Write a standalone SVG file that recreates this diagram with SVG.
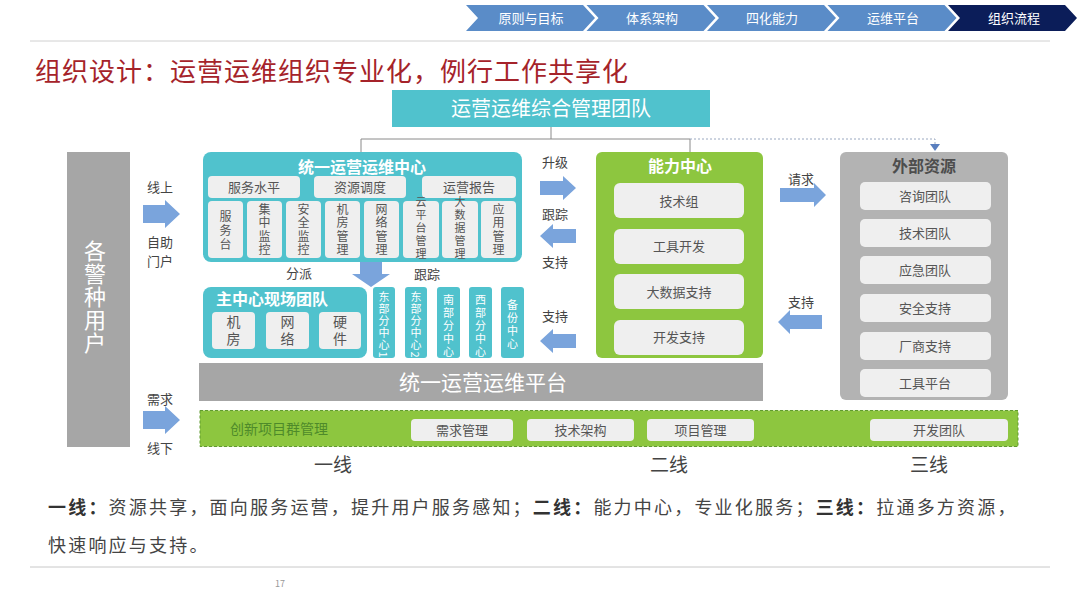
<svg xmlns="http://www.w3.org/2000/svg" width="1080" height="608" viewBox="0 0 1080 608">
<style>
text{font-family:"Noto Sans CJK SC","Microsoft YaHei","Noto Sans",sans-serif;}
.nav{fill:#5a8cc8;}
.navt{fill:#fff;font-size:13px;text-anchor:middle;}
.teal{fill:#50c2cd;}
.green{fill:#8dc63f;}
.gray{fill:#a6a6a6;}
.lbox{fill:#efefef;}
.wt{fill:#fff;text-anchor:middle;}
.bt{fill:#fff;font-weight:bold;font-size:16px;text-anchor:middle;}
.dt{fill:#555;text-anchor:middle;font-size:13px;}
.v{writing-mode:vertical-rl;text-anchor:start;}
.vt{fill:#555;font-size:12px;}
.vt5{fill:#555;font-size:11px;letter-spacing:2px;}
.bv{fill:#fff;font-size:11px;}
.lab{fill:#444;font-size:13px;text-anchor:middle;}
.arr{fill:#7aa4dc;}
.line{fill:#444;font-size:19px;text-anchor:middle;}
</style>
<rect width="1080" height="608" fill="#fff"/>

<g id="nav">
<polygon class="nav" points="466,5 583,5 595,18 583,31 466,31 478,18"/>
<polygon class="nav" points="586.5,5 703.5,5 715.5,18 703.5,31 586.5,31 598.5,18"/>
<polygon class="nav" points="707,5 824,5 836,18 824,31 707,31 719,18"/>
<polygon class="nav" points="827.5,5 944.5,5 956.5,18 944.5,31 827.5,31 839.5,18"/>
<polygon fill="#0b1d59" points="948,5 1065,5 1077,18 1065,31 948,31 960,18"/>
<text class="navt" x="531" y="22.5">原则与目标</text>
<text class="navt" x="652" y="22.5">体系架构</text>
<text class="navt" x="772" y="22.5">四化能力</text>
<text class="navt" x="893" y="22.5">运维平台</text>
<text class="navt" x="1014" y="22.5">组织流程</text>
</g>
<line x1="30" y1="41" x2="1050" y2="41" stroke="#d0d0d0" stroke-width="1"/>
<text x="35" y="81" fill="#a5232a" font-size="26" letter-spacing="1">组织设计：运营运维组织专业化，例行工作共享化</text>

<g id="connectors" fill="none" stroke="#8a8a8a" stroke-width="1">
<path d="M551,127 V139 M361,152 V139 H690 V152"/>
<path d="M690,139 H935 V146" stroke-dasharray="2,2" stroke="#9aa8c0"/>
<path d="M930,144 L940,144 L935,151 z" fill="#5a7fbf" stroke="none"/>
</g>

<g id="mgmt">
<rect x="392" y="90" width="318" height="37" class="teal"/>
<text class="wt" x="551" y="116" font-size="20">运营运维综合管理团队</text>
</g>

<g id="users">
<rect x="67" y="152" width="63" height="295" class="gray"/>
<text class="v" fill="#fff" font-size="22" letter-spacing="1" x="95" y="240">各警种用户</text>
</g>

<g id="arrows-left">
<text class="lab" x="160" y="192">线上</text>
<path class="arr" d="M143,205 H165 V200 L180,214 L165,228 V223 H143 z"/>
<text class="lab" x="160" y="247">自助</text>
<text class="lab" x="160" y="266">门户</text>
<text class="lab" x="160" y="404">需求</text>
<path class="arr" d="M143,411 H165 V406 L180,420 L165,434 V429 H143 z"/>
<text class="lab" x="160" y="453">线下</text>
</g>

<g id="unified-center">
<rect x="203" y="152" width="319" height="110" rx="8" class="teal"/>
<text class="bt" x="362" y="173">统一运营运维中心</text>
<rect x="208" y="176" width="92" height="22" rx="4" class="lbox"/>
<rect x="314" y="176" width="92" height="22" rx="4" class="lbox"/>
<rect x="422" y="176" width="94" height="22" rx="4" class="lbox"/>
<text class="dt" x="254" y="192">服务水平</text>
<text class="dt" x="360" y="192">资源调度</text>
<text class="dt" x="469" y="192">运营报告</text>
<rect x="208" y="201" width="35" height="57" rx="4" class="lbox"/>
<rect x="247" y="201" width="35" height="57" rx="4" class="lbox"/>
<rect x="286" y="201" width="35" height="57" rx="4" class="lbox"/>
<rect x="325" y="201" width="35" height="57" rx="4" class="lbox"/>
<rect x="364" y="201" width="35" height="57" rx="4" class="lbox"/>
<rect x="403" y="201" width="36" height="57" rx="4" class="lbox"/>
<rect x="442" y="201" width="36" height="57" rx="4" class="lbox"/>
<rect x="481" y="201" width="35" height="57" rx="4" class="lbox"/>
<text class="v vt" letter-spacing="2" x="225.5" y="210">服务台</text>
<text class="v vt" letter-spacing="1.5" x="264.5" y="203">集中监控</text>
<text class="v vt" letter-spacing="1.5" x="303.5" y="203">安全监控</text>
<text class="v vt" letter-spacing="1.5" x="342.5" y="203">机房管理</text>
<text class="v vt" letter-spacing="1.5" x="381.5" y="203">网络管理</text>
<text class="v vt5" x="421" y="196.5">云平台管理</text>
<text class="v vt5" x="460" y="196.5">大数据管理</text>
<text class="v vt" letter-spacing="1.5" x="498.5" y="203">应用管理</text>
</g>

<g id="dispatch">
<path class="arr" d="M360,262 H382 V274 H390 L371,287 L352,274 H360 z"/>
<text class="lab" x="299" y="278">分派</text>
<text class="lab" x="427" y="279">跟踪</text>
</g>

<g id="main-team">
<rect x="203" y="287" width="164" height="71" rx="8" class="teal"/>
<text class="bt" x="272" y="305">主中心现场团队</text>
<rect x="212" y="312" width="43" height="37" rx="4" class="lbox"/>
<rect x="266" y="312" width="43" height="37" rx="4" class="lbox"/>
<rect x="319" y="312" width="42" height="37" rx="4" class="lbox"/>
<text class="v" fill="#555" font-size="14" letter-spacing="3" x="233.5" y="315">机房</text>
<text class="v" fill="#555" font-size="14" letter-spacing="3" x="287.5" y="315">网络</text>
<text class="v" fill="#555" font-size="14" letter-spacing="3" x="340" y="315">硬件</text>
</g>

<g id="branches">
<rect x="373" y="287" width="22" height="71" rx="3" class="teal"/>
<rect x="405" y="287" width="22" height="71" rx="3" class="teal"/>
<rect x="437" y="287" width="23" height="71" rx="3" class="teal"/>
<rect x="469" y="287" width="23" height="71" rx="3" class="teal"/>
<rect x="501" y="287" width="23" height="71" rx="3" class="teal"/>
<text class="v bv" letter-spacing="1" x="384" y="291.5">东部分中心1</text>
<text class="v bv" letter-spacing="1" x="416" y="291.5">东部分中心2</text>
<text class="v bv" letter-spacing="2" x="448.5" y="294">南部分中心</text>
<text class="v bv" letter-spacing="2" x="480.5" y="294">西部分中心</text>
<text class="v bv" letter-spacing="2" x="512.5" y="299">备份中心</text>
</g>

<g id="arrows-mid">
<text class="lab" x="555" y="167">升级</text>
<path class="arr" d="M540,181 H563 V176 L576,188 L563,200 V195 H540 z"/>
<text class="lab" x="555" y="219">跟踪</text>
<path class="arr" d="M576,229 H553 V224 L540,236 L553,248 V243 H576 z"/>
<text class="lab" x="555" y="267">支持</text>
<text class="lab" x="555" y="321">支持</text>
<path class="arr" d="M576,334 H553 V329 L540,341 L553,353 V348 H576 z"/>
</g>

<g id="capability">
<rect x="596" y="152" width="167" height="206" rx="6" class="green"/>
<text class="bt" x="680" y="172">能力中心</text>
<rect x="614" y="183" width="130" height="35" rx="6" class="lbox"/>
<rect x="614" y="229" width="130" height="35" rx="6" class="lbox"/>
<rect x="614" y="274" width="130" height="35" rx="6" class="lbox"/>
<rect x="614" y="320" width="130" height="35" rx="6" class="lbox"/>
<text class="dt" font-size="14" x="679" y="206">技术组</text>
<text class="dt" font-size="14" x="679" y="251">工具开发</text>
<text class="dt" font-size="14" x="679" y="297">大数据支持</text>
<text class="dt" font-size="14" x="679" y="342">开发支持</text>
</g>

<g id="arrows-right">
<text class="lab" x="801" y="184">请求</text>
<path class="arr" d="M780,188 H814 V183 L826,195 L814,207 V202 H780 z"/>
<text class="lab" x="801" y="307">支持</text>
<path class="arr" d="M822,315 H790 V310 L778,322 L790,334 V329 H822 z"/>
</g>

<g id="external">
<rect x="840" y="152" width="168" height="248" rx="6" fill="#b3b3b3"/>
<text x="924" y="172" fill="#4d4d4d" font-weight="bold" font-size="16" text-anchor="middle">外部资源</text>
<rect x="860" y="182" width="131" height="28" rx="5" class="lbox"/>
<rect x="860" y="219" width="131" height="28" rx="5" class="lbox"/>
<rect x="860" y="256" width="131" height="28" rx="5" class="lbox"/>
<rect x="860" y="294" width="131" height="28" rx="5" class="lbox"/>
<rect x="860" y="332" width="131" height="28" rx="5" class="lbox"/>
<rect x="860" y="369" width="131" height="28" rx="5" class="lbox"/>
<text class="dt" font-size="14" x="925" y="201">咨询团队</text>
<text class="dt" font-size="14" x="925" y="238">技术团队</text>
<text class="dt" font-size="14" x="925" y="275">应急团队</text>
<text class="dt" font-size="14" x="925" y="313">安全支持</text>
<text class="dt" font-size="14" x="925" y="351">厂商支持</text>
<text class="dt" font-size="14" x="925" y="388">工具平台</text>
</g>

<g id="platform">
<rect x="199" y="363" width="564" height="38" class="gray"/>
<text class="wt" x="483" y="390" font-size="21">统一运营运维平台</text>
</g>

<g id="innovation">
<rect x="200" y="410.5" width="818" height="36" fill="#8dc63f" stroke="#5f9a2e" stroke-width="1" stroke-dasharray="3,2"/>
<text x="230" y="434" fill="#4e8a2a" font-size="14">创新项目群管理</text>
<rect x="411" y="419" width="102" height="22" rx="4" class="lbox"/>
<rect x="527" y="419" width="107" height="22" rx="4" class="lbox"/>
<rect x="647" y="419" width="107" height="22" rx="4" class="lbox"/>
<rect x="870" y="419" width="138" height="22" rx="4" class="lbox"/>
<text class="dt" x="462" y="435">需求管理</text>
<text class="dt" x="580.5" y="435">技术架构</text>
<text class="dt" x="700.5" y="435">项目管理</text>
<text class="dt" x="939" y="435">开发团队</text>
</g>

<g id="tiers">
<text class="line" x="333" y="472">一线</text>
<text class="line" x="669" y="472">二线</text>
<text class="line" x="929" y="472">三线</text>
</g>

<g id="footer" font-size="18" fill="#444">
<text x="48" y="514" letter-spacing="2.2"><tspan font-weight="bold" fill="#333">一线：</tspan>资源共享，面向服务运营，提升用户服务感知；<tspan font-weight="bold" fill="#333">二线：</tspan>能力中心，专业化服务；<tspan font-weight="bold" fill="#333">三线：</tspan>拉通多方资源，</text>
<text x="48" y="552" letter-spacing="2.2">快速响应与支持。</text>
</g>
<line x1="30" y1="567" x2="1050" y2="567" stroke="#c8c8c8" stroke-width="1"/>
<text x="275" y="587" fill="#999" font-size="9" font-family="Liberation Sans, sans-serif">17</text>
</svg>
